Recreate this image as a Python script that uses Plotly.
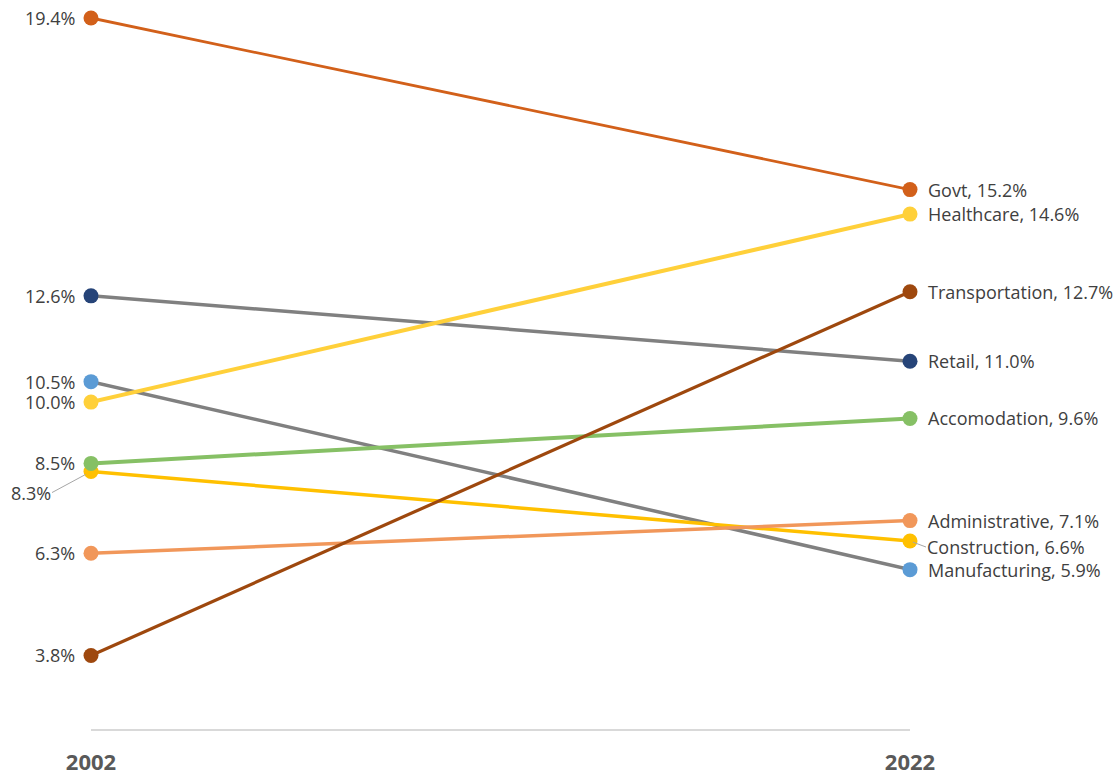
import plotly.graph_objects as go

years = ["2002", "2022"]
categories = ["Govt", "Healthcare", "Transportation", "Retail", "Accomodation",
              "Administrative", "Construction", "Manufacturing"]
v2002 = [19.4, 10.0, 3.8, 12.6, 8.5, 6.3, 8.3, 10.5]
v2022 = [15.2, 14.6, 12.7, 11.0, 9.6, 7.1, 6.6, 5.9]
line_colors = ["#D2601A", "#FFD03A", "#9E480E", "#808080", "#86C065",
               "#F1975A", "#FFC000", "#808080"]
marker_colors = ["#D2601A", "#FFD03A", "#9E480E", "#264478", "#86C065",
                 "#F1975A", "#FFC000", "#5B9BD5"]
line_widths = [2.8, 4, 3.2, 3.5, 4, 3.5, 3.5, 3.5]
draw_order = [3, 7, 6, 5, 4, 2, 1, 0]

FONT = "Open Sans"
TXT = "#404040"
FS = 18
xpos = list(range(len(years)))

fig = go.Figure()
for i in draw_order:
    fig.add_trace(go.Scatter(
        x=xpos, y=[v2002[i], v2022[i]], mode="lines+markers", name=categories[i],
        line=dict(color=line_colors[i], width=line_widths[i]),
        marker=dict(color=marker_colors[i], size=15),
        cliponaxis=False, showlegend=False, hoverinfo="skip"))

annotations = []
# Left labels (2002)
for name, a in zip(categories, v2002):
    if name == "Construction":
        annotations.append(dict(x=xpos[0], y=a, xref="x", yref="y", text=f"{a:.1f}%",
                                showarrow=True, ax=-39, ay=21, xanchor="right",
                                yanchor="middle", arrowhead=0, arrowwidth=1,
                                arrowcolor="#a6a6a6", standoff=6, borderpad=0,
                                font=dict(family=FONT, size=FS, color=TXT)))
    else:
        annotations.append(dict(x=xpos[0], y=a, xref="x", yref="y", text=f"{a:.1f}%",
                                showarrow=False, xanchor="right", yanchor="middle",
                                xshift=-15, borderpad=0,
                                font=dict(family=FONT, size=FS, color=TXT)))

# Right labels (2022)
for name, b in zip(categories, v2022):
    if name == "Construction":
        annotations.append(dict(x=xpos[1], y=b, xref="x", yref="y",
                                text=f"{name}, {b:.1f}%", showarrow=True,
                                ax=16, ay=6, xanchor="left", yanchor="middle",
                                arrowhead=0, arrowwidth=1, arrowcolor="#a6a6a6",
                                standoff=3, borderpad=0,
                                font=dict(family=FONT, size=FS, color=TXT)))
    else:
        annotations.append(dict(x=xpos[1], y=b, xref="x", yref="y",
                                text=f"{name}, {b:.1f}%", showarrow=False,
                                xanchor="left", yanchor="middle", xshift=17, borderpad=0,
                                font=dict(family=FONT, size=FS, color=TXT)))

fig.update_layout(
    width=1119, height=776,
    margin=dict(l=91, r=209, t=0, b=47, autoexpand=False),
    plot_bgcolor="white", paper_bgcolor="white",
    font=dict(family=FONT, color=TXT),
    annotations=annotations,
    xaxis=dict(range=[0, 1], tickvals=xpos, ticktext=years, showline=True,
               linecolor="#d9d9d9", linewidth=2, showgrid=False, zeroline=False,
               automargin=False, ticks="",
               tickfont=dict(family=FONT, size=22, color="#595959", weight="bold"),
               ticklabelstandoff=13),
    yaxis=dict(visible=False, range=[2.0, 19.84], automargin=False),
)

fig.write_html("out.html", config={"displayModeBar": False},
               post_script="document.body.style.margin='0';")
